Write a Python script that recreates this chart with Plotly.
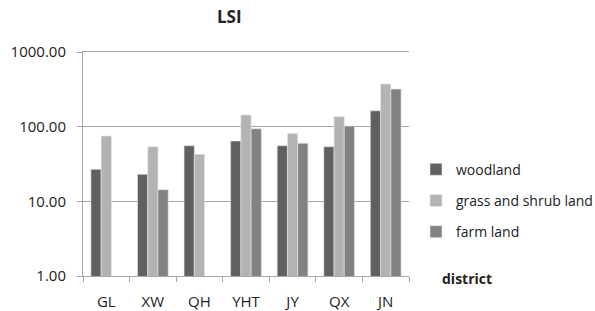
import plotly.graph_objects as go

districts = ["GL", "XW", "QH", "YHT", "JY", "QX", "JN"]
woodland = [26.8, 23.0, 55.5, 64.2, 55.5, 53.8, 163.0]
grass_shrub = [74.8, 53.8, 42.6, 143.0, 81.3, 136.0, 372.0]
farm_land = [None, 14.3, None, 93.7, 59.8, 102.0, 319.0]
y_ticks = [1, 10, 100, 1000]
y_tick_labels = ["1.00", "10.00", "100.00", "1000.00"]

font_family = "Open Sans, Noto Sans, sans-serif"
L, R, T, B = 83, 186, 52, 35
PW = 595 - L - R
PH = 311 - T - B

fig = go.Figure()
series = [
    ("woodland", woodland, "#606060"),
    ("grass and shrub land", grass_shrub, "#b3b3b3"),
    ("farm land", farm_land, "#828282"),
]
for i, (name, vals, col) in enumerate(series):
    fig.add_trace(go.Bar(
        x=districts, y=vals, name=name, legendgroup=f"g{i}",
        marker=dict(color=col, line=dict(color="#e6e6e6", width=0.6)),
    ))

fig.update_layout(
    width=595, height=311,
    margin=dict(l=L, r=R, t=T, b=B, autoexpand=False),
    paper_bgcolor="white", plot_bgcolor="white",
    barmode="group", bargap=0.34, bargroupgap=0,
    font=dict(family=font_family, size=15, color="#222222"),
    showlegend=True,
    legend=dict(
        x=(416 - L) / PW, y=(276 - 168) / PH + 0.064, xanchor="left", yanchor="top",
        traceorder="grouped", tracegroupgap=10,
        font=dict(size=14, color="#222222"),
        itemwidth=30,
    ),
    annotations=[
        dict(text="<b>LSI</b>", xref="paper", yref="paper",
             x=(229 - L) / PW, y=(276 - 16.5) / PH, xanchor="center", yanchor="middle",
             showarrow=False, font=dict(size=17, color="#222222")),
        dict(text="<b>district</b>", xref="paper", yref="paper",
             x=(440 - L) / PW, y=(276 - 278) / PH, xanchor="left", yanchor="middle",
             showarrow=False, font=dict(size=14, color="#222222")),
    ],
)

fig.update_yaxes(
    type="log", range=[0, 3], tickvals=y_ticks, ticktext=y_tick_labels,
    showgrid=True, gridcolor="#a6a6a6", gridwidth=1,
    showline=True, linecolor="#a6a6a6", linewidth=1,
    ticks="outside", ticklen=5, tickcolor="#a6a6a6", ticklabelstandoff=8,
    tickfont=dict(size=15, color="#222222"), zeroline=False,
)
fig.update_xaxes(
    type="category", showline=True, mirror=True, linecolor="#a6a6a6", linewidth=1,
    ticks="outside", tickson="boundaries", ticklen=5, tickcolor="#a6a6a6",
    ticklabelstandoff=12,
    tickfont=dict(size=15, color="#222222"), showgrid=False,
)

fig.write_html("out.html", config={"displayModeBar": False},
               post_script="document.body.style.margin='0px';")
